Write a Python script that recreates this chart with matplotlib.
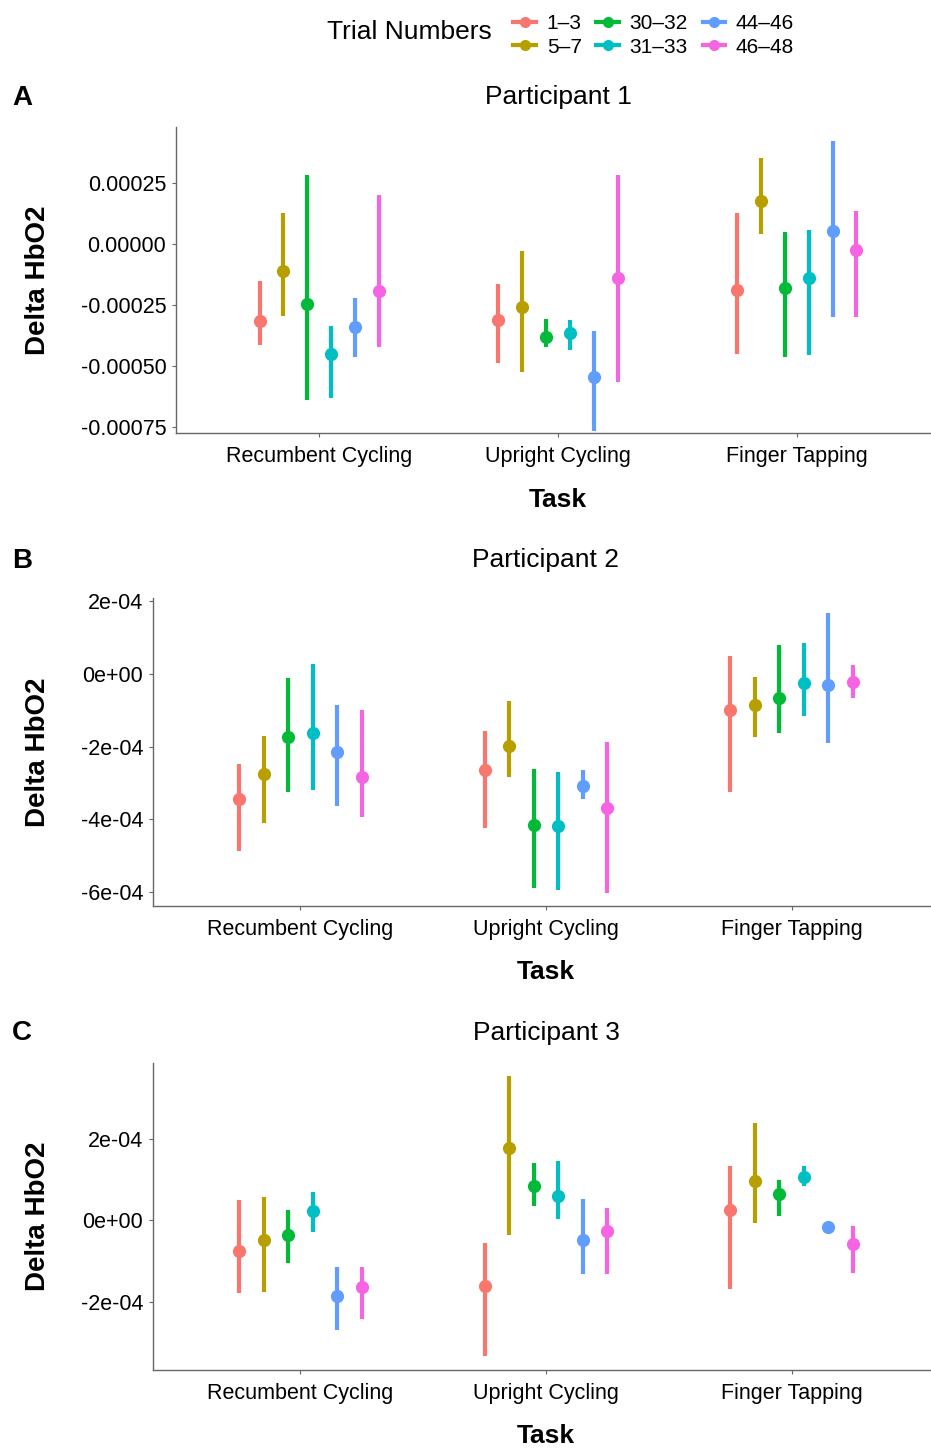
import matplotlib
matplotlib.use("Agg")
import matplotlib.pyplot as plt
from matplotlib.lines import Line2D

plt.rcParams['font.family'] = ['Liberation Sans', 'DejaVu Sans']

W, H = 931, 1448

tasks = ['Recumbent Cycling', 'Upright Cycling', 'Finger Tapping']
trials = ['1\u20133', '5\u20137', '30\u201332', '31\u201333', '44\u201346', '46\u201348']
colors = ['#F8766D', '#B79F00', '#00BA38', '#00BFC4', '#619CFF', '#F564E3']
dodge = [-0.25, -0.15, -0.05, 0.05, 0.15, 0.25]

# participant 1 (rows = task, cols = trial group)
p1_mean = [[-0.000316, -0.000111, -0.000246, -0.000451, -0.000340, -0.000193],
           [-0.000311, -0.000258, -0.000381, -0.000365, -0.000545, -0.000139],
           [-0.000189, 0.000176, -0.000180, -0.000139, 0.000053, -0.000025]]
p1_low = [[-0.000414, -0.000295, -0.000639, -0.000631, -0.000463, -0.000422],
          [-0.000488, -0.000525, -0.000422, -0.000434, -0.000766, -0.000566],
          [-0.000451, 0.000041, -0.000463, -0.000455, -0.000299, -0.000299]]
p1_high = [[-0.000152, 0.000127, 0.000283, -0.000336, -0.000221, 0.000201],
           [-0.000164, -0.000029, -0.000307, -0.000311, -0.000357, 0.000283],
           [0.000127, 0.000352, 0.000049, 0.000057, 0.000422, 0.000135]]

# participant 2
p2_mean = [[-0.000344, -0.000275, -0.000173, -0.000162, -0.000214, -0.000283],
           [-0.000264, -0.000198, -0.000415, -0.000418, -0.000308, -0.000368],
           [-0.000099, -0.000085, -0.000066, -0.000025, -0.000030, -0.000022]]
p2_low = [[-0.000487, -0.000410, -0.000324, -0.000319, -0.000363, -0.000393],
          [-0.000423, -0.000283, -0.000588, -0.000594, -0.000344, -0.000602],
          [-0.000324, -0.000173, -0.000162, -0.000115, -0.000190, -0.000066]]
p2_high = [[-0.000247, -0.000170, -0.000011, 0.000027, -0.000085, -0.000099],
           [-0.000157, -0.000074, -0.000261, -0.000269, -0.000264, -0.000187],
           [0.000049, -0.000008, 0.000080, 0.000085, 0.000168, 0.000025]]

# participant 3
p3_mean = [[-0.000076, -0.000049, -0.000037, 0.000022, -0.000187, -0.000164],
           [-0.000162, 0.000177, 0.000083, 0.000059, -0.000049, -0.000027],
           [0.000025, 0.000096, 0.000064, 0.000106, -0.000017, -0.000059]]
p3_low = [[-0.000179, -0.000177, -0.000106, -0.000029, -0.000270, -0.000243],
          [-0.000334, -0.000037, 0.000034, 0.000002, -0.000133, -0.000133],
          [-0.000169, -0.000007, 0.000010, 0.000083, -0.000027, -0.000130]]
p3_high = [[0.000049, 0.000056, 0.000025, 0.000069, -0.000115, -0.000115],
           [-0.000056, 0.000353, 0.000140, 0.000145, 0.000052, 0.000029],
           [0.000133, 0.000238, 0.000098, 0.000133, -0.000007, -0.000015]]

p1_ticks = [0.00025, 0.0, -0.00025, -0.0005, -0.00075]
p1_ticklabels = ['0.00025', '0.00000', '-0.00025', '-0.00050', '-0.00075']
p2_ticks = [0.0002, 0.0, -0.0002, -0.0004, -0.0006]
p2_ticklabels = ['2e-04', '0e+00', '-2e-04', '-4e-04', '-6e-04']
p3_ticks = [0.0002, 0.0, -0.0002]
p3_ticklabels = ['2e-04', '0e+00', '-2e-04']


def fx(x):
    return x / W


def fy(y):
    return 1 - y / H


def draw_panel(rect_px, mean, low, high, ylim, ticks, ticklabels,
               letter, title, letter_y, title_y, task_y):
    left, top, right, bottom = rect_px
    ax = fig.add_axes([fx(left), fy(bottom), (right - left) / W, (bottom - top) / H])
    for i, task in enumerate(tasks):
        for j in range(len(trials)):
            x = i + 1 + dodge[j]
            ax.vlines(x, low[i][j], high[i][j], color=colors[j], lw=3.0, zorder=2)
            ax.plot(x, mean[i][j], 'o', color=colors[j], ms=9.5, mec='none', zorder=3)
    ax.set_xlim(0.4, 3.6)
    ax.set_ylim(*ylim)
    ax.set_xticks([1, 2, 3])
    ax.set_xticklabels(tasks)
    ax.set_yticks(ticks)
    ax.set_yticklabels(ticklabels)
    for s in ['top', 'right']:
        ax.spines[s].set_visible(False)
    for s in ['left', 'bottom']:
        ax.spines[s].set_color('#666666')
        ax.spines[s].set_linewidth(1.0)
    ax.tick_params(axis='both', length=3, width=0.8, color='#666666',
                   labelsize=15.5, labelcolor='black')
    ax.tick_params(axis='x', pad=6)
    ax.tick_params(axis='y', pad=4)
    ax.set_facecolor('none')

    cx = (left + right) / 2
    fig.text(fx(22), fy(letter_y), letter, fontsize=20, fontweight='bold',
             ha='center', va='center')
    fig.text(fx(cx), fy(title_y), title, fontsize=19, ha='center', va='center')
    fig.text(fx(cx), fy(task_y), 'Task', fontsize=19, fontweight='bold',
             ha='center', va='center')
    fig.text(fx(38), fy((top + bottom) / 2), 'Delta HbO2', fontsize=20,
             fontweight='bold', rotation=90, ha='center', va='center')
    return ax


fig = plt.figure(figsize=(W / 100, H / 100), dpi=100)

draw_panel((176, 127, 940, 433), p1_mean, p1_low, p1_high,
           (-0.0007745, 0.0004795), p1_ticks, p1_ticklabels,
           'A', 'Participant 1', 98, 97, 500)
draw_panel((153, 598, 939, 906), p2_mean, p2_low, p2_high,
           (-0.0006378, 0.0002089), p2_ticks, p2_ticklabels,
           'B', 'Participant 2', 561, 560, 972)
draw_panel((153, 1063, 939, 1370), p3_mean, p3_low, p3_high,
           (-0.0003681, 0.0003853), p3_ticks, p3_ticklabels,
           'C', 'Participant 3', 1033, 1033, 1436)

# legend
fig.text(fx(327), fy(32), 'Trial Numbers', fontsize=19, ha='left', va='center')
handles = [Line2D([0], [0], color=c, lw=3, marker='o', ms=8, mec='none') for c in colors]
fig.legend(handles, trials, ncol=3, loc='upper left',
           bbox_to_anchor=(fx(503), fy(4)), frameon=False, fontsize=15,
           handlelength=1.1, handletextpad=0.5, columnspacing=0.7,
           labelspacing=0.2, borderpad=0.0)

fig.savefig('out.png', dpi=100)
